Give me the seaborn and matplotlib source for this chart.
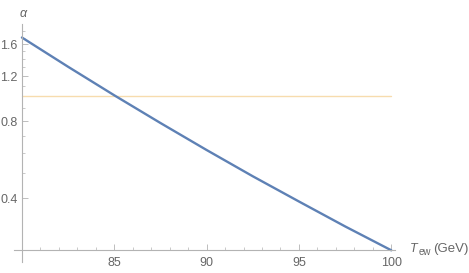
import numpy as np
import pandas as pd
import matplotlib
matplotlib.use("Agg")
import matplotlib.pyplot as plt
import matplotlib.ticker as mticker
import seaborn as sns

# data
T_values = [80, 82.5, 85, 87.5, 90, 92.5, 95, 97.5, 100]
alpha_values = [1.70, 1.306, 1.01, 0.787, 0.617, 0.487, 0.388, 0.310, 0.25]
ref_T = [80, 100]
ref_alpha = [1.0, 1.0]
x_major = [85, 90, 95, 100]
x_minor = [81, 82, 83, 84, 86, 87, 88, 89, 91, 92, 93, 94, 96, 97, 98, 99]
y_major = [0.4, 0.8, 1.2, 1.6]
y_minor = [0.5, 0.6, 0.7, 0.9, 1.0, 1.1, 1.3, 1.4, 1.5, 1.7, 1.8]

sns.set_style("white")
plt.rcParams['font.family'] = ['Liberation Sans', 'DejaVu Sans']
plt.rcParams['mathtext.fontset'] = 'custom'
plt.rcParams['mathtext.rm'] = 'Liberation Sans'
plt.rcParams['mathtext.it'] = 'Liberation Sans:italic'

df = pd.DataFrame({"T": T_values, "alpha": alpha_values})
dref = pd.DataFrame({"T": ref_T, "alpha": ref_alpha})

fig = plt.figure(figsize=(4.69, 2.73), dpi=100)
ax = fig.add_axes([14/469, 11/273, 381/469, 238/273])

sns.lineplot(data=dref, x="T", y="alpha", ax=ax, color="#f7dcae", linewidth=1.0)
sns.lineplot(data=df, x="T", y="alpha", ax=ax, color="#5e81b5", linewidth=1.7)

ax.set_yscale("log")
ax.set_xlim(79.57, 100.2)
ax.set_ylim(0.225, 1.92)

ax.yaxis.set_major_locator(mticker.FixedLocator(y_major))
ax.yaxis.set_minor_locator(mticker.FixedLocator(y_minor))
ax.yaxis.set_major_formatter(mticker.FixedFormatter([f"{v:.1f}" for v in y_major]))
ax.yaxis.set_minor_formatter(mticker.NullFormatter())
ax.xaxis.set_major_locator(mticker.FixedLocator(x_major))
ax.xaxis.set_minor_locator(mticker.FixedLocator(x_minor))

for s in ["top", "right"]:
    ax.spines[s].set_visible(False)
ax.spines["left"].set_position(("data", 80))
ax.spines["bottom"].set_position(("data", 0.25))
for s in ["left", "bottom"]:
    ax.spines[s].set_color("#b3b3b3")
    ax.spines[s].set_linewidth(0.8)

gray = "#666666"
ax.tick_params(which="major", direction="in", length=4, width=0.6,
               color="#b3b3b3", labelcolor=gray, labelsize=9)
ax.tick_params(which="minor", direction="in", length=2.2, width=0.5,
               color="#b3b3b3")
ax.tick_params(axis="x", which="major", pad=5)
ax.tick_params(axis="y", which="major", pad=3)
ax.tick_params(left=True, bottom=True, which="both")

ax.set_xlabel("")
ax.set_ylabel("")
ax.grid(False)

fig.text(24/469, 1 - 14/273, r"$\alpha$", color=gray, fontsize=9,
         ha="center", va="center")
fig.text(410/469, 1 - 252/273, "T", color=gray, fontsize=9, style="italic",
         ha="left", va="baseline")
fig.text(419/469, 1 - 255/273, "ew", color=gray, fontsize=7,
         ha="left", va="baseline")
fig.text(433/469, 1 - 252/273, "(GeV)", color=gray, fontsize=9.5,
         ha="left", va="baseline")

fig.savefig("out.png", dpi=100)
